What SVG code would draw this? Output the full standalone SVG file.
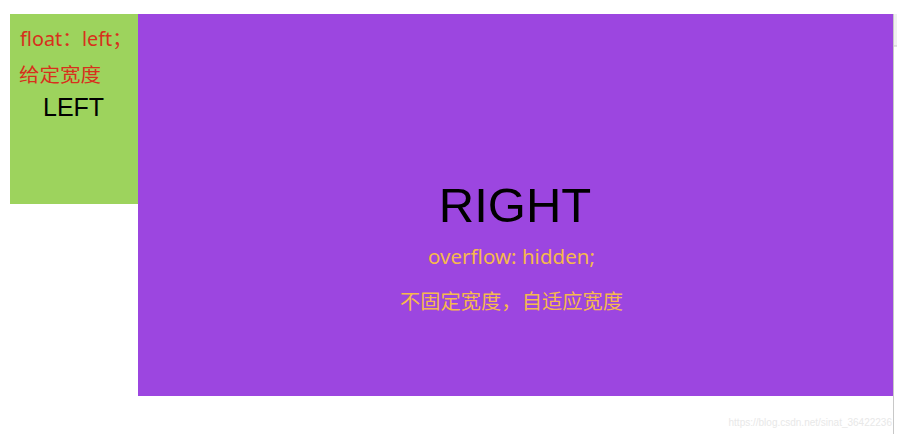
<svg xmlns="http://www.w3.org/2000/svg" width="907" height="448" viewBox="0 0 907 448">
<style>
.red{fill:#d8301c;font-family:"Noto Sans","Noto Sans CJK SC",sans-serif;font-size:19px}
.org{fill:#f6b94c;font-family:"Noto Sans","Noto Sans CJK SC",sans-serif;font-size:20px}
.blk{fill:#000;font-family:"Liberation Sans",Arial,sans-serif}
</style>
<rect width="907" height="448" fill="#fff"/>
<g id="left">
<rect x="10" y="14" width="128" height="190" fill="#9dd35d"/>
<text class="red" x="20" y="46" textLength="112" lengthAdjust="spacingAndGlyphs">float：left；</text>
<text class="red" x="19" y="82" textLength="82" lengthAdjust="spacingAndGlyphs">给定宽度</text>
<text class="blk" x="43" y="116" font-size="25">LEFT</text>
</g>
<g id="right">
<rect x="138" y="14" width="755" height="382" fill="#9c46e0"/>
<text class="blk" x="515" y="222" font-size="49" text-anchor="middle">RIGHT</text>
<text class="org" x="428" y="264" textLength="167" lengthAdjust="spacingAndGlyphs">overflow: hidden;</text>
<text class="org" x="400" y="309" textLength="223" lengthAdjust="spacingAndGlyphs">不固定宽度，自适应宽度</text>
</g>
<g id="connectors"/>
<rect x="893" y="14" width="4" height="32" fill="#f0f0f0"/>
<line x1="893" y1="46" x2="897" y2="46" stroke="#c8c8c8"/>
<line x1="893.5" y1="14" x2="893.5" y2="434" stroke="#c8c8c8"/>
<text x="892" y="426" text-anchor="end" fill="#e8e8e8" font-family="Liberation Sans,Arial,sans-serif" font-size="10">https://blog.csdn.net/sinat_36422236</text>
</svg>
